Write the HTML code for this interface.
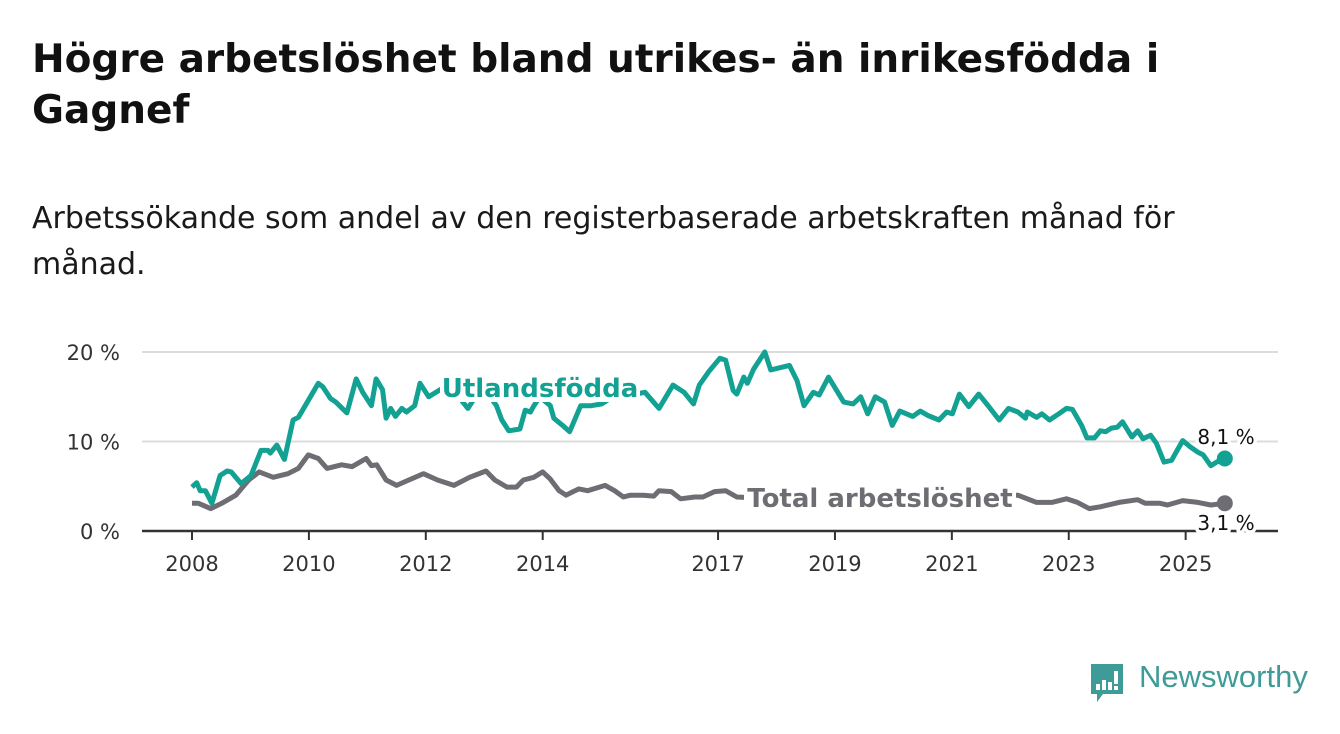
<!DOCTYPE html>
<html><head><meta charset="utf-8"><style>
body{margin:0;width:1340px;height:734px;background:#fff;overflow:hidden;font-family:"DejaVu Sans","Liberation Sans",sans-serif;color:#111}
h1{position:absolute;left:32px;top:34px;margin:0;font-size:39px;line-height:51px;font-weight:bold;width:1300px;white-space:nowrap}
.sub{position:absolute;left:32px;top:196px;margin:0;font-size:30px;line-height:46px;width:1300px;color:#1a1a1a;white-space:nowrap}
svg{position:absolute;left:0;top:0}
</style></head><body>
<h1>Högre arbetslöshet bland utrikes- än inrikesfödda i<br>Gagnef</h1>
<p class="sub">Arbetssökande som andel av den registerbaserade arbetskraften månad för<br>månad.</p>
<svg id="chart" width="1340" height="734"></svg>
<div style="position:absolute;left:1089px;top:662px;">
<svg width="36" height="42" viewBox="0 0 36 42" style="position:static"><path d="M2 2h32v30H14l-6 8v-8H2z" fill="#3e9b97"/><rect x="7" y="22" width="4" height="6" fill="#fff"/><rect x="13" y="18" width="4" height="10" fill="#fff"/><rect x="19" y="20" width="4" height="8" fill="#fff"/><rect x="25" y="9" width="4" height="13" fill="#fff"/><rect x="25" y="24" width="4" height="4" fill="#fff"/></svg>
<span style="position:absolute;left:50px;top:-3px;font-family:'Liberation Sans',sans-serif;font-size:31px;color:#3e9b97;white-space:nowrap">Newsworthy</span></div>
<script>
const utrDates=[2008.0,2008.08,2008.14,2008.23,2008.34,2008.48,2008.6,2008.67,2008.84,2009.01,2009.18,2009.3,2009.34,2009.45,2009.58,2009.73,2009.82,2010.16,2010.24,2010.37,2010.46,2010.65,2010.81,2010.92,2011.07,2011.15,2011.26,2011.32,2011.4,2011.48,2011.59,2011.67,2011.81,2011.9,2012.05,2012.3,2012.5,2012.72,2012.9,2013.1,2013.21,2013.3,2013.42,2013.61,2013.7,2013.79,2013.85,2013.95,2014.13,2014.19,2014.34,2014.46,2014.65,2014.83,2015.01,2015.2,2015.5,2015.75,2015.99,2016.23,2016.42,2016.58,2016.68,2016.84,2017.03,2017.13,2017.26,2017.32,2017.44,2017.5,2017.61,2017.8,2017.9,2018.22,2018.35,2018.47,2018.63,2018.73,2018.89,2019.15,2019.31,2019.44,2019.56,2019.69,2019.85,2019.98,2020.11,2020.33,2020.46,2020.59,2020.78,2020.91,2021.01,2021.13,2021.29,2021.46,2021.62,2021.81,2021.97,2022.13,2022.26,2022.29,2022.45,2022.54,2022.67,2022.83,2022.96,2023.06,2023.22,2023.31,2023.44,2023.54,2023.63,2023.73,2023.83,2023.92,2024.08,2024.18,2024.27,2024.4,2024.5,2024.63,2024.76,2024.82,2024.95,2025.08,2025.21,2025.3,2025.43,2025.53,2025.67];
const utrValues=[4.9,5.4,4.5,4.5,3.1,6.2,6.7,6.6,5.3,6.2,9.0,9.0,8.7,9.6,8.0,12.4,12.7,16.5,16.1,14.8,14.4,13.2,17.0,15.5,14.0,17.0,15.8,12.6,13.7,12.8,13.7,13.3,14.0,16.5,15.0,16.0,15.5,13.7,15.5,15.0,14.0,12.4,11.2,11.4,13.5,13.3,14.0,15.0,14.0,12.6,11.8,11.1,14.0,14.0,14.2,15.0,15.2,15.5,13.7,16.3,15.5,14.2,16.3,17.8,19.3,19.1,15.7,15.3,17.2,16.5,18.1,20.0,18.0,18.5,16.8,14.0,15.5,15.2,17.2,14.4,14.2,15.0,13.1,15.0,14.4,11.8,13.4,12.8,13.4,12.9,12.4,13.3,13.1,15.3,13.9,15.3,14.0,12.4,13.7,13.3,12.6,13.3,12.7,13.1,12.4,13.1,13.7,13.6,11.8,10.4,10.4,11.2,11.1,11.5,11.6,12.2,10.5,11.2,10.3,10.7,9.8,7.7,7.9,8.6,10.1,9.4,8.8,8.5,7.3,7.7,8.1];
const totDates=[2008.0,2008.11,2008.32,2008.51,2008.75,2008.97,2009.15,2009.39,2009.64,2009.82,2009.99,2010.16,2010.31,2010.56,2010.74,2010.98,2011.07,2011.16,2011.32,2011.5,2011.71,2011.96,2012.2,2012.48,2012.75,2013.03,2013.18,2013.39,2013.55,2013.67,2013.85,2014.0,2014.13,2014.28,2014.4,2014.52,2014.62,2014.77,2015.07,2015.23,2015.38,2015.5,2015.72,2015.9,2015.99,2016.2,2016.36,2016.6,2016.74,2016.94,2017.13,2017.32,2018.0,2019.0,2020.0,2021.0,2021.8,2022.13,2022.45,2022.71,2022.96,2023.15,2023.35,2023.54,2023.86,2024.18,2024.31,2024.56,2024.69,2024.95,2025.21,2025.43,2025.67];
const totValues=[3.1,3.1,2.5,3.1,4.0,5.7,6.6,6.0,6.4,7.0,8.5,8.1,7.0,7.4,7.2,8.1,7.3,7.4,5.7,5.1,5.7,6.4,5.7,5.1,6.0,6.7,5.7,4.9,4.9,5.7,6.0,6.6,5.8,4.5,4.0,4.4,4.7,4.5,5.1,4.5,3.8,4.0,4.0,3.9,4.5,4.4,3.6,3.8,3.8,4.4,4.5,3.8,3.6,3.7,4.2,4.0,4.0,4.0,3.2,3.2,3.6,3.2,2.5,2.7,3.2,3.5,3.1,3.1,2.9,3.4,3.2,2.9,3.1];
const yTicks=[0,10,20];
const yTickLabels=["0 %","10 %","20 %"];
const xTicks=[2008,2010,2012,2014,2017,2019,2021,2023,2025];
const lastLabels=["8,1 %","3,1 %"];
const NS="http://www.w3.org/2000/svg";
const svg=document.getElementById('chart');
const x=t=>192+(t-2008)*58.45;
const y=v=>531-v*8.95;
function mk(tag,attrs,parent){const e=document.createElementNS(NS,tag);for(const k in attrs)e.setAttribute(k,attrs[k]);(parent||svg).appendChild(e);return e;}
yTicks.forEach((v,i)=>{
  if(v>0){const g=mk('line',{x1:142,x2:1278,y1:y(v),y2:y(v),stroke:'#dcdcdc','stroke-width':2});
  
  }
  const t=mk('text',{x:120,y:y(v)+8,'text-anchor':'end','font-size':21,fill:'#333'});t.textContent=yTickLabels[i];
  
  
});
const ax=mk('line',{x1:142,x2:1278,y1:531,y2:531,stroke:'#333','stroke-width':2.5});


xTicks.forEach(t=>{
  const tk=mk('line',{x1:x(t),x2:x(t),y1:531,y2:540,stroke:'#333','stroke-width':2});
  
  
  const l=mk('text',{x:x(t),y:571,'text-anchor':'middle','font-size':21,fill:'#333'});l.textContent=t;
  
  
});
function line(d,v,col,name){
  const p=mk('path',{d:d.map((t,i)=>(i?'L':'M')+x(t).toFixed(1)+','+y(v[i]).toFixed(1)).join(''),fill:'none',stroke:col,'stroke-width':5,'stroke-linejoin':'round'});
  
  
  const c=mk('circle',{cx:x(d[d.length-1]),cy:y(v[v.length-1]),r:8,fill:col});
  
  
}
line(totDates,totValues,'#6e6d73','total-line');
line(utrDates,utrValues,'#12a192','utlandsfodda-line');
function lab(tx,px,py,col,fs,bold,anchor,name,box){
  if(box){const r=mk('rect',{x:box[0],y:box[1],width:box[2],height:box[3],fill:'#fff'});
  
  }
  const t=mk('text',{x:px,y:py,'text-anchor':anchor,'font-size':fs,'font-weight':bold?'bold':'normal',fill:col,stroke:'#fff','stroke-width':7,'paint-order':'stroke','stroke-linejoin':'round'});
  t.textContent=tx;
  
  
}
lab('Utlandsfödda',540,397,'#12a192',26,true,'middle','utlandsfodda-label',[440,378,200,24]);
lab('Total arbetslöshet',880,507,'#6e6d73',26,true,'middle','total-label',[744,486,272,26]);
lab(lastLabels[0],1226,444,'#111',20,false,'middle','utlandsfodda-last-value');
lab(lastLabels[1],1226,530,'#111',20,false,'middle','total-last-value');
</script>
</body></html>
